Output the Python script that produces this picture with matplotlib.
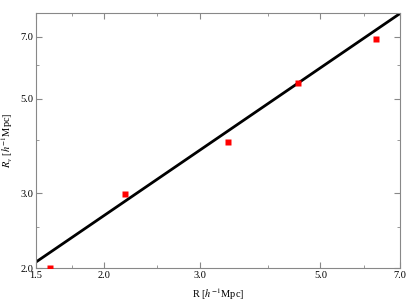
import numpy as np
import matplotlib
matplotlib.use("Agg")
import matplotlib.pyplot as plt
from matplotlib.ticker import FixedLocator, NullFormatter

plt.rcParams['font.family'] = ['Liberation Serif', 'DejaVu Serif']
plt.rcParams['mathtext.fontset'] = 'stix'

# data points
r = [1.59, 2.19, 3.38, 4.55, 6.33]
rv = [2.0, 2.98, 3.96, 5.43, 6.92]

# fitted power law
fit_amp = 2.066
fit_slope = 0.873
xfit = np.array([1.5, 7.0])
yfit = fit_amp * (xfit / 1.5) ** fit_slope

xticks = [1.5, 2.0, 3.0, 5.0, 7.0]
yticks = [2.0, 3.0, 5.0, 7.0]

fig = plt.figure(figsize=(4.07, 3.04), dpi=100)
ax = fig.add_axes([36/407, 36/304, 364/407, 255/304])

ax.plot(xfit, yfit, color='black', lw=2, zorder=2)
ax.plot(r, rv, 's', color='red', ms=4.5, mec='none', zorder=3, clip_on=True)

ax.set_xscale('log')
ax.set_yscale('log')
ax.set_xlim(1.5, 7.0)
ax.set_ylim(2.0, 7.95)

ax.xaxis.set_major_locator(FixedLocator(xticks))
ax.yaxis.set_major_locator(FixedLocator(yticks))
ax.set_xticklabels(['%.1f' % t for t in xticks])
ax.set_yticklabels(['%.1f' % t for t in yticks])
ax.xaxis.set_minor_locator(FixedLocator([1.75, 2.5, 4.0, 6.0]))
ax.yaxis.set_minor_locator(FixedLocator([2.5, 4.0, 6.0]))
ax.xaxis.set_minor_formatter(NullFormatter())
ax.yaxis.set_minor_formatter(NullFormatter())

ax.tick_params(which='both', direction='in', top=True, right=True,
               color='#888888', labelsize=7.5, pad=2)
ax.tick_params(which='major', length=4)
ax.tick_params(which='minor', length=2)
for s in ax.spines.values():
    s.set_color('#888888')
    s.set_linewidth(0.8)

ax.set_xlabel(r'R [$h^{-1}$Mpc]', fontsize=7.5, labelpad=5)
ax.set_ylabel(r'$R_v$ [$h^{-1}$Mpc]', fontsize=7.5, labelpad=4)

fig.savefig('out.png', dpi=100)
